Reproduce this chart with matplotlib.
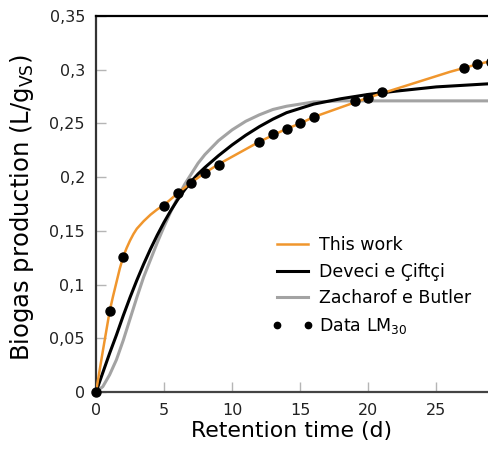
import matplotlib
matplotlib.use("Agg")
import matplotlib.pyplot as plt
from matplotlib.ticker import FixedLocator, FuncFormatter

# Experimental data (LM30)
data_x = [0, 1, 2, 5, 6, 7, 8, 9, 12, 13, 14, 15, 16, 19, 20, 21, 27, 28, 29]
data_y = [0.0, 0.075, 0.126, 0.173, 0.185, 0.195, 0.204, 0.211, 0.233, 0.240,
          0.245, 0.250, 0.256, 0.271, 0.274, 0.279, 0.302, 0.305, 0.307]

# Model curve "This work" (orange)
this_x = [0, 0.5, 1, 1.25, 1.5, 1.75, 2, 2.25, 2.5, 2.75, 3, 3.5, 4, 4.5, 5, 6, 7,
          8, 9, 10, 11, 12, 13, 14, 15, 16, 18, 20, 22, 24, 26, 28, 29]
this_y = [0.0, 0.038, 0.075, 0.089, 0.102, 0.115, 0.126, 0.134, 0.141, 0.147,
          0.152, 0.159, 0.165, 0.170, 0.174, 0.185, 0.195, 0.204, 0.212, 0.219,
          0.226, 0.233, 0.239, 0.245, 0.250, 0.256, 0.265, 0.274, 0.282, 0.290,
          0.298, 0.305, 0.308]

# Deveci e Çiftçi (black)
dev_x = [0, 0.5, 1, 1.5, 2, 2.5, 3, 3.5, 4, 4.5, 5, 5.5, 6, 6.5, 7, 7.5, 8, 9,
         10, 11, 12, 13, 14, 15, 16, 18, 20, 22, 25, 29]
dev_y = [0.0, 0.018, 0.036, 0.053, 0.071, 0.088, 0.104, 0.119, 0.133, 0.146,
         0.158, 0.169, 0.179, 0.188, 0.196, 0.203, 0.209, 0.220, 0.230, 0.239,
         0.247, 0.254, 0.260, 0.264, 0.268, 0.273, 0.277, 0.280, 0.284, 0.287]

# Zacharof e Butler (gray)
zac_x = [0, 0.5, 1, 1.5, 2, 2.5, 3, 3.5, 4, 4.5, 5, 5.5, 6, 6.5, 7, 7.5, 8, 9,
         10, 11, 12, 13, 14, 15, 16, 18, 29]
zac_y = [0.0, 0.005, 0.016, 0.030, 0.048, 0.068, 0.088, 0.107, 0.123, 0.139,
         0.154, 0.168, 0.181, 0.193, 0.203, 0.213, 0.221, 0.234, 0.244, 0.252,
         0.258, 0.263, 0.266, 0.268, 0.270, 0.271, 0.271]

x_ticks = [0, 5, 10, 15, 20, 25]
y_ticks = [0, 0.05, 0.1, 0.15, 0.2, 0.25, 0.3, 0.35]

fig = plt.figure(figsize=(4.88, 4.59), dpi=100)
ax = fig.add_axes([96/488, 1 - 392/459, 1 - 96/488, (392 - 16)/459])

ax.plot(zac_x, zac_y, color="#a3a3a3", lw=2.2, label="Zacharof e Butler", zorder=2,
        solid_joinstyle="round")
ax.plot(dev_x, dev_y, color="black", lw=2.2, label="Deveci e Çiftçi", zorder=3,
        solid_joinstyle="round")
ax.plot(this_x, this_y, color="#f0962d", lw=1.8, label="This work", zorder=4,
        solid_joinstyle="round")
ax.plot(data_x, data_y, "o", color="black", ms=6.5, label="Data LM$_{30}$",
        zorder=5, clip_on=False)

ax.set_xlim(0, 28.8)
ax.set_ylim(0, 0.35)
ax.xaxis.set_major_locator(FixedLocator(x_ticks))
ax.yaxis.set_major_locator(FixedLocator(y_ticks))

def fmt(v, pos):
    s = ("%.2f" % v).rstrip("0").rstrip(".")
    return s.replace(".", ",")

ax.yaxis.set_major_formatter(FuncFormatter(fmt))
ax.tick_params(axis="both", direction="in", length=7, width=1, color="#b5b5b5",
               labelsize=11.5, labelcolor="#222222")
ax.tick_params(axis="y", pad=8)
ax.tick_params(axis="x", pad=8)

ax.spines["right"].set_visible(False)
ax.spines["top"].set_color("black")
ax.spines["top"].set_linewidth(1.6)
ax.spines["left"].set_color("#333333")
ax.spines["left"].set_linewidth(1.6)
ax.spines["bottom"].set_color("#444444")
ax.spines["bottom"].set_linewidth(1.6)

ax.set_xlabel("Retention time (d)", fontsize=15.8, labelpad=2)
ax.set_ylabel("Biogas production (L/g$_{\\mathrm{VS}}$)", fontsize=17.5)
ax.yaxis.set_label_coords((36 - 96) / 392, 0.49)

handles, labels = ax.get_legend_handles_labels()
order = [2, 1, 0, 3]
leg = ax.legend([handles[i] for i in order], [labels[i] for i in order],
                frameon=False, loc="upper left",
                bbox_to_anchor=(272/488, 1 - 236/459), bbox_transform=fig.transFigure,
                borderpad=0, borderaxespad=0, handlelength=2.4, handletextpad=0.3,
                labelspacing=0.5, fontsize=12.5, numpoints=2, markerscale=0.7)

fig.savefig("out.png", dpi=100)
